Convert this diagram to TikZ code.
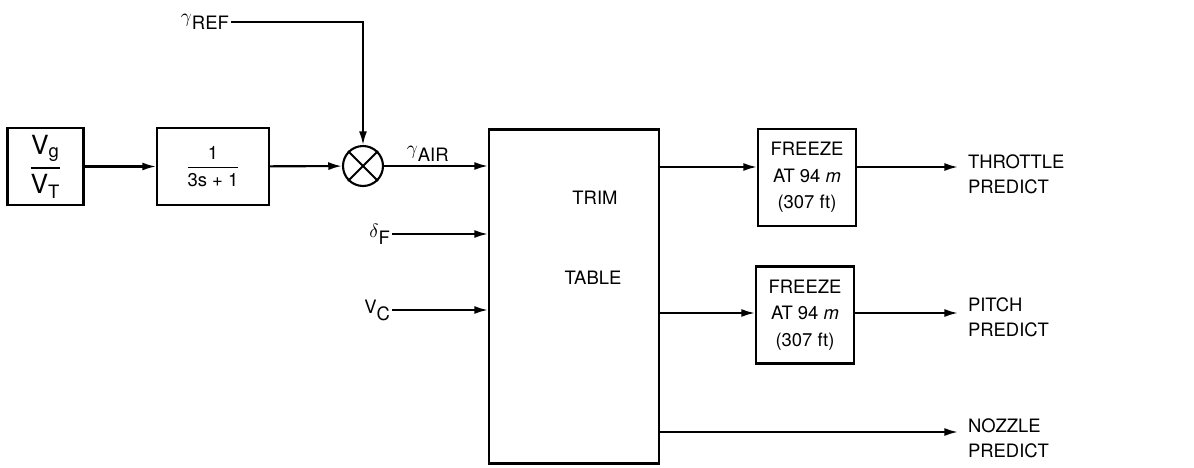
\documentclass[tikz,border=0pt]{standalone}
\usepackage{amsmath}
\usepackage{fontspec}
\setmainfont{TeX Gyre Heros}
\usetikzlibrary{arrows.meta,positioning,calc}
\newcommand{\lowtxt}[1]{\raisebox{-4pt}{#1}}
\newcommand{\blkfrac}[2]{\genfrac{}{}{1pt}{0}{#1}{#2}}
\tikzset{
  blk/.style={draw, line width=1.2pt, inner sep=0pt, align=center, font=\fontsize{10.5}{13}\selectfont},
  freezebox/.style={blk, minimum width=1.96cm, minimum height=1.94cm, font=\fontsize{10.5}{15}\selectfont},
  sumnode/.style={draw, circle, line width=1.2pt, minimum size=0.8cm, inner sep=0pt},
  sig/.style={-{Latex[length=7.8pt,width=4.6pt]}, line width=1.2pt},
  lbl/.style={font=\fontsize{10.5}{14}\selectfont, inner sep=1pt},
  outlbl/.style={lbl, anchor=west, align=left, inner xsep=5.5pt}
}
\begin{document}
\begin{tikzpicture}[x=0.02cm, y=-0.02cm]
  \useasboundingbox (0,0) rectangle (1194,467);
  % forward path
  \node[blk, minimum width=1.52cm, minimum height=1.54cm, font=\fontsize{15}{18}\selectfont]
    (ratio) at (45.5,166.5) {$\blkfrac{\text{V}_{\text{g}}}{\text{V}_{\text{T}}}$};
  \node[blk, minimum width=2.24cm, minimum height=1.54cm]
    (lag) at (213,166.5) {$\blkfrac{\text{1}}{\text{3s + 1}}$};
  \node[sumnode] (mul) at (363,166) {};
  \draw[line width=1.2pt] (mul.north west) -- (mul.south east)
                          (mul.north east) -- (mul.south west);
  \node[blk, minimum width=3.4cm, minimum height=6.68cm] (trim) at (574,296.5) {};
  \node[lbl] (trimA) at (595,198) {TRIM};
  \node[lbl] (trimB) at (593,278) {TABLE};
  \node[freezebox] (fzA) at (807,177.5) {FREEZE\\AT 94 \textit{m}\\(307 ft)};
  \node[freezebox] (fzB) at (805,315) {FREEZE\\AT 94 \textit{m}\\(307 ft)};
  \draw[sig] (ratio) -- (lag);
  \draw[sig] (lag) -- (mul);
  \draw[sig] (mul) -- node[lbl, above=1pt, pos=0.42] (gair) {$\gamma$\lowtxt{AIR}} (mul.east -| trim.west);
  % inputs
  \node[lbl, anchor=east] (gref) at (231,22) {$\gamma$\lowtxt{REF}};
  \draw[sig] (gref.east) -| (mul.north);
  \node[lbl, anchor=east] (dF) at (392,234) {$\delta$\lowtxt{F}};
  \draw[sig] (dF.east) -- (dF.east -| trim.west);
  \node[lbl, anchor=east] (vc) at (392,310) {V\lowtxt{C}};
  \draw[sig] (vc.east) -- (vc.east -| trim.west);
  % outputs
  \coordinate (rowA) at (659,167);
  \coordinate (rowB) at (659,313);
  \coordinate (rowC) at (659,432);
  \node[outlbl] (thr) at (958,174.5) {THROTTLE\\PREDICT};
  \node[outlbl] (pit) at (958,317) {PITCH\\PREDICT};
  \node[outlbl] (noz) at (958,438) {NOZZLE\\PREDICT};
  \draw[sig] (trim.east |- rowA) -- (fzA.west |- rowA);
  \draw[sig] (fzA.east |- rowA) -- (thr.west |- rowA);
  \draw[sig] (trim.east |- rowB) -- (fzB.west |- rowB);
  \draw[sig] (fzB.east |- rowB) -- (pit.west |- rowB);
  \draw[sig] (trim.east |- rowC) -- (noz.west |- rowC);
\end{tikzpicture}
\end{document}
